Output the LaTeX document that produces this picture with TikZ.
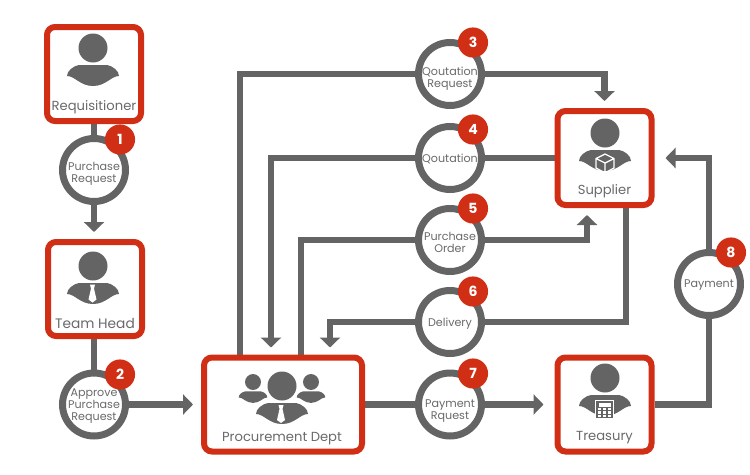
\documentclass[tikz,border=0pt]{standalone}
\usepackage{fontspec}
\setmainfont{Poppins}
\usetikzlibrary{arrows.meta,backgrounds}
\definecolor{flowgray}{HTML}{646464}
\definecolor{textgray}{HTML}{6A6A6A}
\definecolor{accentred}{HTML}{D02F16}
\tikzset{
  box/.style={draw=accentred,fill=white,line width=4.5pt,rounded corners=6pt,minimum width=70.5pt,minimum height=70.5pt,inner sep=0pt},
  boxtext/.style={text=textgray,font=\fontsize{9.85}{11}\selectfont,inner sep=0pt},
  step circle/.style={circle,draw=flowgray,fill=white,line width=5.25pt,minimum size=47.25pt,inner sep=0pt,text=textgray,align=center,text depth=0pt,font=\fontsize{8.35}{9}\selectfont},
  badge/.style={circle,fill=accentred,text=white,minimum size=22.6pt,inner sep=0pt,font=\bfseries\fontsize{10.5}{11}\selectfont},
  flow/.style={draw=flowgray,line width=5pt},
  arrowflow/.style={flow,-{Triangle[length=7.5pt,width=15pt]},shorten >=5.25pt},
  arrowlong/.style={arrowflow,shorten >=8.25pt},
  person/.pic={
    \fill[flowgray] (0,0) circle[radius=14.5];
    \fill[flowgray] (-14,17) .. controls (-20,18) and (-26,23) .. (-26,28) .. controls (-18,28) and (-13,38) .. (0,38) .. controls (13,38) and (18,28) .. (26,28) .. controls (26,23) and (20,18) .. (14,17) -- cycle;
  },
  tie/.pic={
    \fill[white] (-2.5,0) -- (2.5,0) -- (1.5,4) -- (4,15) -- (0,18) -- (-4,15) -- (-1.5,4) -- cycle;
  },
  cube/.pic={
    \draw[white,line width=1pt,line join=round] (0,-9) -- (9,-4.5) -- (9,5) -- (0,10) -- (-9,5) -- (-9,-4.5) -- cycle (-9,-4.5) -- (0,0) -- (9,-4.5) (0,0) -- (0,10);
  },
  calcpad/.pic={
    \fill[flowgray,draw=white,line width=1pt] (-9,-9) rectangle (9,9);
    \fill[white] (-6,-6.5) rectangle (6,-3);
    \foreach \x in {-5,0,5} \foreach \y in {-0.5,3,6.5} \fill[white] (\x-1.5,\y-1.2) rectangle (\x+1.5,\y+1.2);
  }
}
\begin{document}
\begin{tikzpicture}[x=0.75pt,y=-0.75pt]
  \useasboundingbox (0,0) rectangle (750,475);
  \node[box] (req) at (94,74) {};
  \node[box] (teamhead) at (95,289) {};
  \node[box,minimum width=118.5pt] (procure) at (283,404.5) {};
  \node[box] (supplier) at (604.5,158) {};
  \node[box] (treasury) at (604.5,404.5) {};
  \node[step circle] (purreq) at (94,170) {\rule{0pt}{9pt}Purchase\\Request};
  \node[step circle] (approve) at (94,404.5) {Approve\\Purchase\\Request};
  \node[step circle] (qreq) at (450,74) {\rule{0pt}{11pt}Qoutation\\Request};
  \node[step circle] (quote) at (450,158) {Qoutation};
  \node[step circle] (purorder) at (450,240) {\rule{0pt}{9pt}Purchase\\Order};
  \node[step circle] (delivery) at (450,322) {Delivery};
  \node[step circle] (payreq) at (450,404.5) {\rule{0pt}{14pt}Payment\\Rquest};
  \node[step circle] (payment) at (709,284) {Payment};
  \coordinate (qreqleft) at (240,74);
  \coordinate (qreqright) at (604.5,74);
  \coordinate (quoteleft) at (271,158);
  \coordinate (orderleft) at (301,240);
  \coordinate (orderright) at (587,240);
  \coordinate (delivright) at (626,322);
  \coordinate (delivleft) at (330,322);
  \coordinate (paycorner) at (709,404.5);
  \coordinate (paytop) at (709,158);
  \begin{scope}[on background layer]
    \draw[flow] (req) -- (purreq);
    \draw[arrowflow] (purreq) -- (purreq |- teamhead.north);
    \draw[flow] (purreq |- teamhead.south) -- (approve);
    \draw[arrowflow,shorten >=6pt] (approve) -- (procure.west);
    \draw[flow] (procure.north -| qreqleft) -- (qreqleft) -- (qreq);
    \draw[arrowflow] (qreq) -- (qreqright) -- (supplier.north);
    \draw[flow] (supplier) -- (quote);
    \draw[arrowflow] (quote) -- (quoteleft) -- (procure.north -| quoteleft);
    \draw[flow] (procure.north -| orderleft) -- (orderleft) -- (purorder);
    \draw[arrowflow] (purorder) -- (orderright) -- (supplier.south -| orderright);
    \draw[flow] (supplier.south -| delivright) -- (delivright) -- (delivery);
    \draw[arrowflow] (delivery) -- (delivleft) -- (procure.north -| delivleft);
    \draw[flow] (procure) -- (payreq);
    \draw[arrowlong] (payreq) -- (treasury.west);
    \draw[flow] (treasury) -- (paycorner) -- (payment);
    \draw[arrowlong] (payment) -- (paytop) -- (supplier.east);
  \end{scope}
  \pic at (93,48) {person};
  \pic at (93,266) {person};
  \pic at (92.5,284.5) {tie};
  \pic at (605,133) {person};
  \pic at (605,163) {cube};
  \pic at (605,378) {person};
  \pic at (604.5,409.5) {calcpad};
  \pic[scale=0.55] at (253,382) {person};
  \pic[scale=0.55] at (311,382) {person};
  \pic at (282,386) {person};
  \pic at (281,405) {tie};
  \node[boxtext] (reqtext) at (94,107) {Requisitioner};
  \node[boxtext,font=\fontsize{10.3}{11}\selectfont] (headtext) at (95,323) {Team Head};
  \node[boxtext] (proctext) at (282,438.5) {Procurement Dept};
  \node[boxtext] (suptext) at (604.5,191) {Supplier};
  \node[boxtext] (treatext) at (604.5,438) {Treasury};
  \foreach \n/\x/\y in {1/120/139.5,2/120/374.5,3/473/42.5,4/473/129.5,5/473/208.5,6/473/291.5,7/473/373.5,8/731/252.5}
    \node[badge] (badge\n) at (\x,\y) {\n};
\end{tikzpicture}
\end{document}
